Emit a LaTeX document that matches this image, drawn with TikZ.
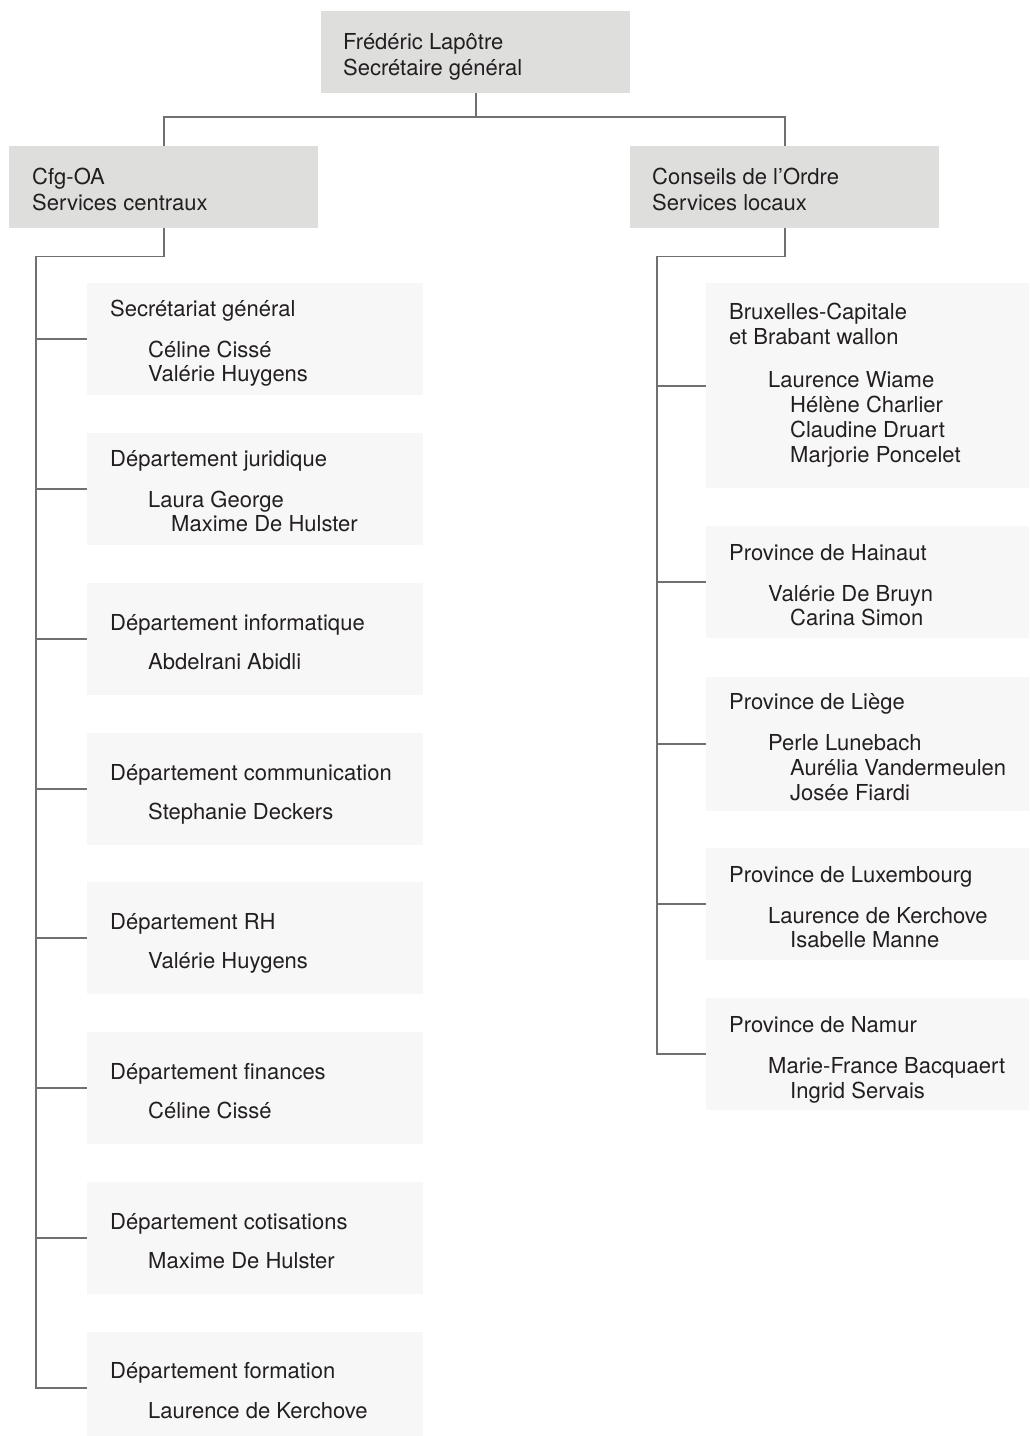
\documentclass[tikz,border=0pt]{standalone}
\usepackage{fontspec}
\setmainfont{TeX Gyre Heros}
\definecolor{headfill}{RGB}{222,222,221}
\definecolor{subfill}{RGB}{247,247,247}
\definecolor{linegray}{RGB}{112,112,114}
\definecolor{ink}{RGB}{35,31,32}
\begin{document}
\begin{tikzpicture}[x=1pt,y=-1pt,
  headbox/.style={fill=headfill, draw=none, inner sep=0, anchor=north west, minimum width=309pt, minimum height=82pt},
  subbox/.style={fill=subfill, draw=none, inner sep=0, anchor=north west, minimum width=336pt, minimum height=112pt},
  rbox/.style={fill=subfill, draw=none, inner sep=0, anchor=north west, minimum width=340pt},
  txt/.style={anchor=base west, inner sep=0, text=ink, font=\fontsize{22}{26}\selectfont},
  conn/.style={draw=linegray, line width=1.8pt}]
\useasboundingbox (0,0) rectangle (1029,1436);
\clip (0,0) rectangle (1029,1436);
\fill[white] (0,0) rectangle (1029,1436);
% head boxes
\node[headbox] (top) at (321,11) {};
\node[headbox] (cfg) at (9,146) {};
\node[headbox] (cons) at (630,146) {};
\node[txt] (top1) at (343,49) {Frédéric Lapôtre};
\node[txt] (top2) at (343,75) {Secrétaire général};
\node[txt] (cfg1) at (32,184) {Cfg-OA};
\node[txt] (cfg2) at (32,210) {Services centraux};
\node[txt] (cons1) at (652,184) {Conseils de l’Ordre};
\node[txt] (cons2) at (652,210) {Services locaux};
% left boxes
\node[subbox] (l1) at (87,283) {};
\node[subbox] (l2) at (87,433) {};
\node[subbox] (l3) at (87,583) {};
\node[subbox] (l4) at (87,733) {};
\node[subbox] (l5) at (87,882) {};
\node[subbox] (l6) at (87,1032) {};
\node[subbox] (l7) at (87,1182) {};
\node[subbox] (l8) at (87,1332) {};
\node[txt] (l1a) at (110,316) {Secrétariat général};
\node[txt] (l1b) at (148,357) {Céline Cissé};
\node[txt] (l1c) at (148,381) {Valérie Huygens};
\node[txt] (l2a) at (110,466) {Département juridique};
\node[txt] (l2b) at (148,507) {Laura George};
\node[txt] (l2c) at (171,531) {Maxime De Hulster};
\node[txt] (l3a) at (110,630) {Département informatique};
\node[txt] (l3b) at (148,669) {Abdelrani Abidli};
\node[txt] (l4a) at (110,780) {Département communication};
\node[txt] (l4b) at (148,819) {Stephanie Deckers};
\node[txt] (l5a) at (110,929) {Département RH};
\node[txt] (l5b) at (148,968) {Valérie Huygens};
\node[txt] (l6a) at (110,1079) {Département finances};
\node[txt] (l6b) at (148,1118) {Céline Cissé};
\node[txt] (l7a) at (110,1229) {Département cotisations};
\node[txt] (l7b) at (148,1268) {Maxime De Hulster};
\node[txt] (l8a) at (110,1378) {Département formation};
\node[txt] (l8b) at (148,1418) {Laurence de Kerchove};
% right boxes
\node[rbox, minimum height=205pt] (r1) at (706,283) {};
\node[rbox, minimum height=112pt] (r2) at (706,526) {};
\node[rbox, minimum height=134pt] (r3) at (706,677) {};
\node[rbox, minimum height=112pt] (r4) at (706,848) {};
\node[rbox, minimum height=112pt] (r5) at (706,998) {};
\node[txt] (r1a) at (729,319) {Bruxelles-Capitale};
\node[txt] (r1b) at (729,344) {et Brabant wallon};
\node[txt] (r1c) at (768,387) {Laurence Wiame};
\node[txt] (r1d) at (790,412) {Hélène Charlier};
\node[txt] (r1e) at (790,437) {Claudine Druart};
\node[txt] (r1f) at (790,462) {Marjorie Poncelet};
\node[txt] (r2a) at (729,560) {Province de Hainaut};
\node[txt] (r2b) at (768,601) {Valérie De Bruyn};
\node[txt] (r2c) at (790,625) {Carina Simon};
\node[txt] (r3a) at (729,709) {Province de Liège};
\node[txt] (r3b) at (768,750) {Perle Lunebach};
\node[txt] (r3c) at (790,775) {Aurélia Vandermeulen};
\node[txt] (r3d) at (790,800) {Josée Fiardi};
\node[txt] (r4a) at (729,882) {Province de Luxembourg};
\node[txt] (r4b) at (768,923) {Laurence de Kerchove};
\node[txt] (r4c) at (790,947) {Isabelle Manne};
\node[txt] (r5a) at (729,1032) {Province de Namur};
\node[txt] (r5b) at (768,1073) {Marie-France Bacquaert};
\node[txt] (r5c) at (790,1098) {Ingrid Servais};
% connectors
\coordinate (lx) at (36,0);
\coordinate (rx) at (657,0);
\draw[conn] (top.south) -- ++(0,24);
\draw[conn] (cfg.north) -- ++(0,-29) -| (cons.north);
\draw[conn] (cfg.south) -- ++(0,28) -| (lx |- l8.west) -- (l8.west);
\foreach \b in {l1,l2,l3,l4,l5,l6,l7} \draw[conn] (lx |- \b.west) -- (\b.west);
\draw[conn] (cons.south) -- ++(0,28) -| (rx |- r5.west) -- (r5.west);
\foreach \b in {r1,r2,r3,r4} \draw[conn] (rx |- \b.west) -- (\b.west);
\end{tikzpicture}
\end{document}
